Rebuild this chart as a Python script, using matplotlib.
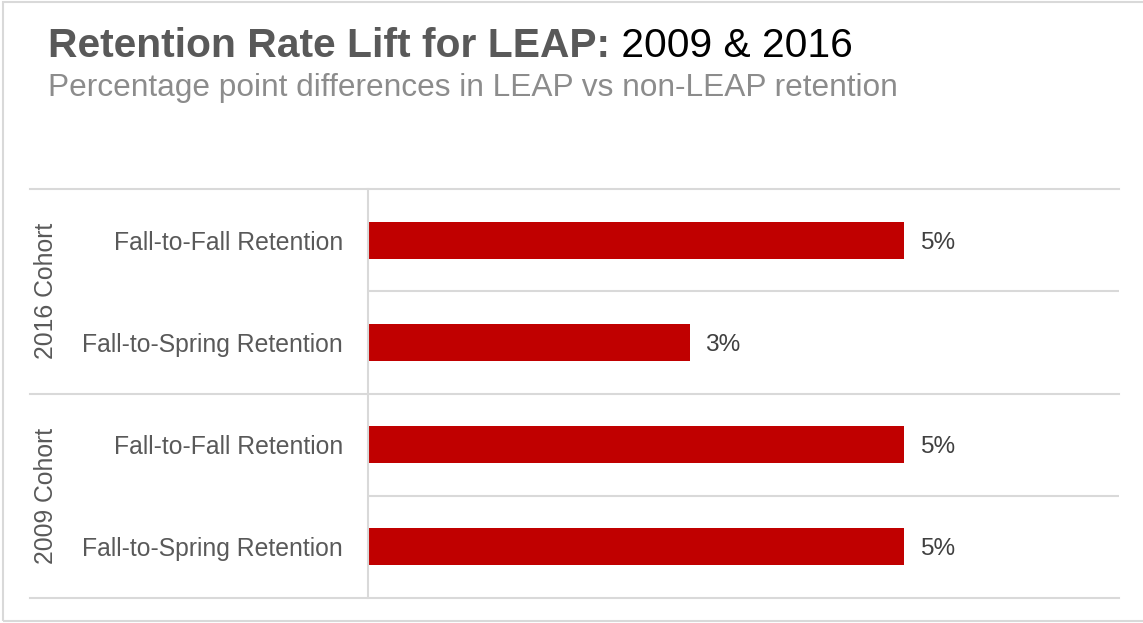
import matplotlib.pyplot as plt
from matplotlib.patches import Rectangle
from matplotlib.lines import Line2D
import matplotlib.transforms as mtransforms

plt.rcParams['font.family'] = ['Liberation Sans', 'DejaVu Sans']

# data
groups = ['2016 Cohort', '2009 Cohort']
categories = ['Fall-to-Fall Retention', 'Fall-to-Spring Retention',
              'Fall-to-Fall Retention', 'Fall-to-Spring Retention']
values = [5, 3, 5, 5]
value_labels = ['5%', '3%', '5%', '5%']

W, H = 1143, 623
fig = plt.figure(figsize=(W / 100, H / 100), dpi=100)

# plot area in pixels
x0, x1 = 368, 1119
y_top, y_bot = 189, 598
ax = fig.add_axes([x0 / W, 1 - y_bot / H, (x1 - x0) / W, (y_bot - y_top) / H])

pos = list(range(len(categories)))
ax.barh(pos, values, height=0.36, color='#c00000')
ax.set_xlim(0, 7)
ax.set_ylim(len(categories) - 0.5, -0.5)

for p, v, lab in zip(pos, values, value_labels):
    ax.annotate(lab, (v, p), xytext=(11, 0), textcoords='offset points',
                va='center_baseline', ha='left', fontsize=17.6, color='#404040')

ax.set_yticks(pos)
ax.set_yticklabels(categories, fontsize=17.8, color='#595959')
ax.tick_params(axis='y', length=0, pad=18)
ax.set_xticks([])
for s in ['top', 'right', 'bottom']:
    ax.spines[s].set_visible(False)
ax.spines['left'].set_color('#d9d9d9')
ax.spines['left'].set_linewidth(1.5)

grid_c = '#d9d9d9'
# short lines inside groups
for y in [0.5, 2.5]:
    ax.axhline(y, color=grid_c, lw=1.5, zorder=0)
# long lines at group boundaries
trans = mtransforms.blended_transform_factory(fig.transFigure, ax.transData)
for y in [-0.5, 1.5, 3.5]:
    fig.add_artist(Line2D([30 / W, x1 / W], [y, y], transform=trans,
                          color=grid_c, lw=1.5, clip_on=False))

# group labels
for i, g in enumerate(groups):
    ax.text(46 / W, 2 * i + 0.5, g, transform=trans, rotation=90,
            ha='center', va='center', fontsize=17.8, color='#595959')

# title and subtitle
t = fig.text(48 / W, 1 - 57 / H, 'Retention Rate Lift for LEAP:', fontsize=29.3,
             fontweight='bold', color='#595959', ha='left', va='baseline')
fig.canvas.draw()
bb = t.get_window_extent()
fig.text(bb.x1 / W, 1 - 57 / H, ' 2009 & 2016', fontsize=29.3, color='#000000',
         ha='left', va='baseline')
fig.text(48 / W, 1 - 96 / H, 'Percentage point differences in LEAP vs non-LEAP retention',
         fontsize=22.8, color='#8c8c8c', ha='left', va='baseline')

# outer border
fig.add_artist(Rectangle((3 / W, 1 - 621 / H), 1.2, (619) / H, transform=fig.transFigure,
                         fill=False, edgecolor='#d9d9d9', lw=1.5, clip_on=False))

fig.savefig('out.png', dpi=100)
